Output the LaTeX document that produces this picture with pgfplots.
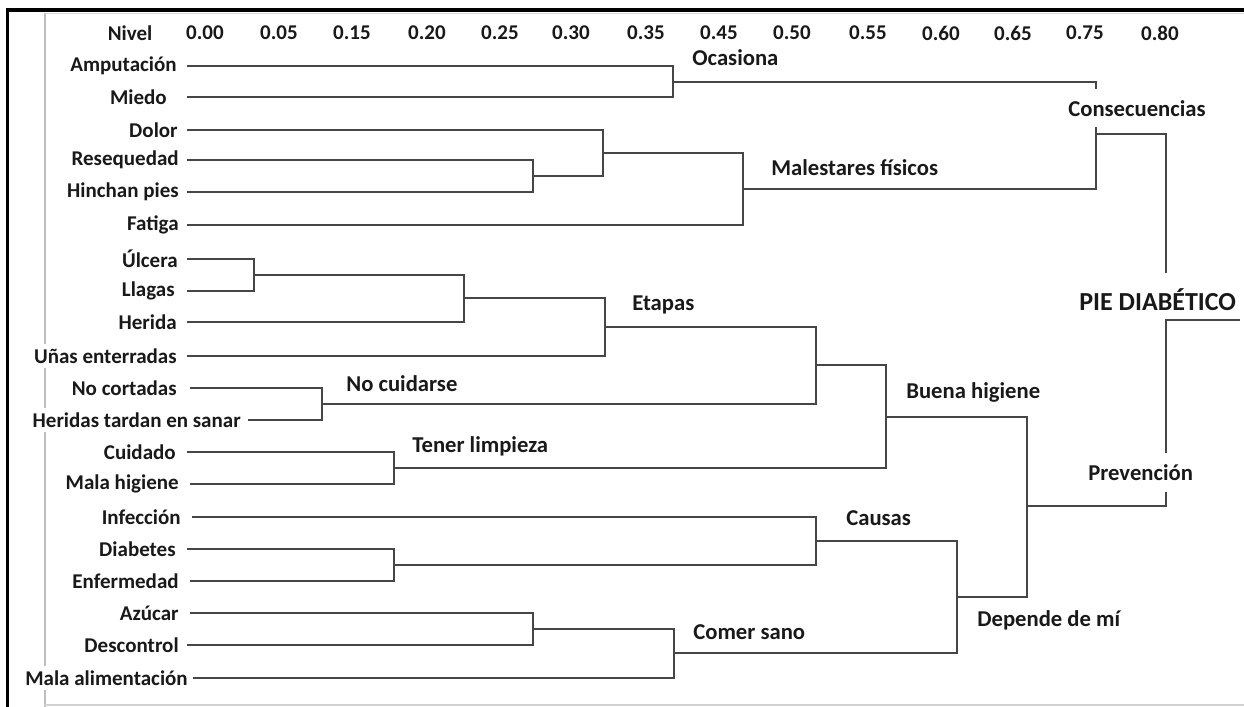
\documentclass[border=0pt]{standalone}
\usepackage{fontspec}
\setmainfont{Carlito}
\usepackage{pgfplots}
\pgfplotsset{compat=1.18}

\definecolor{linecol}{RGB}{70,70,70}
\definecolor{txtcol}{RGB}{25,25,25}
\definecolor{framegray}{RGB}{190,190,190}

\newcommand{\leaffont}{\fontsize{12.6}{14}\selectfont\bfseries}
\newcommand{\nodefont}{\fontsize{13.6}{15}\selectfont\bfseries}
\newcommand{\rootfont}{\fontsize{15.6}{17}\selectfont\bfseries}

\tikzset{
    leaflab/.style={anchor=east, font=\leaffont, text=txtcol, fill=white, inner xsep=0pt, inner ysep=3pt},
    clulab/.style={anchor=west, font=\nodefont, text=txtcol, inner sep=0pt},
    scalelab/.style={anchor=center, font=\leaffont, text=txtcol, inner sep=0pt},
}

\begin{document}
\begin{tikzpicture}
\begin{axis}[
    width=746.4pt, height=424.2pt,
    scale only axis,
    xmin=0, xmax=1244, ymin=0, ymax=707,
    y dir=reverse,
    hide axis,
    clip=false,
    dend/.style={draw=linecol, line width=1.25pt, no marks, line join=miter},
]
% frame
\addplot[draw=black, line width=2.6pt, no marks] coordinates {(6,10) (1244,10)};
\addplot[draw=black, line width=2.2pt, no marks] coordinates {(7.5,8) (7.5,707)};
\addplot[draw=framegray, line width=1.2pt, no marks] coordinates {(45,13) (45,707)};
\addplot[draw=framegray!60, line width=1pt, no marks] coordinates {(45,13.5) (1244,13.5)};
\addplot[draw=framegray!70, line width=1.2pt, no marks] coordinates {(45,705) (1244,705)};

% Consecuencias
\addplot[dend] coordinates {(187,66) (673,66) (673,97) (187,97)};
\addplot[dend] coordinates {(187,160) (533,160) (533,192) (187,192)};
\addplot[dend] coordinates {(187,130) (603,130) (603,176) (533,176)};
\addplot[dend] coordinates {(603,153) (743,153) (743,225) (187,225)};
\addplot[dend] coordinates {(673,82) (1096,82) (1096,89)};
\addplot[dend] coordinates {(1096,127) (1096,189) (743,189)};
\addplot[dend] coordinates {(1096,134) (1166,134) (1166,273)};
% root
\addplot[dend] coordinates {(1166,453) (1166,320) (1240,320)};
\addplot[dend] coordinates {(1166,492) (1166,506) (1027,506)};
% Buena higiene
\addplot[dend] coordinates {(187,259) (254,259) (254,291) (187,291)};
\addplot[dend] coordinates {(254,275) (464,275) (464,322) (187,322)};
\addplot[dend] coordinates {(464,298) (605,298) (605,356) (187,356)};
\addplot[dend] coordinates {(190,388) (322,388) (322,420) (248,420)};
\addplot[dend] coordinates {(605,327) (816,327) (816,404) (322,404)};
\addplot[dend] coordinates {(187,452) (394,452) (394,484) (190,484)};
\addplot[dend] coordinates {(816,365) (886,365) (886,468) (394,468)};
\addplot[dend] coordinates {(886,417) (1027,417) (1027,597) (957,597)};
% Depende de mi
\addplot[dend] coordinates {(187,549) (394,549) (394,581) (190,581)};
\addplot[dend] coordinates {(192,517) (816,517) (816,565) (394,565)};
\addplot[dend] coordinates {(190,613) (533,613) (533,645) (187,645)};
\addplot[dend] coordinates {(533,629) (674,629) (674,678) (193,678)};
\addplot[dend] coordinates {(816,541) (957,541) (957,653) (674,653)};

% top scale
\node[scalelab] at (axis cs:130,33) {Nivel};
\node[scalelab] at (axis cs:205,33) {0.00};
\node[scalelab] at (axis cs:279,33) {0.05};
\node[scalelab] at (axis cs:352,33) {0.15};
\node[scalelab] at (axis cs:427,33) {0.20};
\node[scalelab] at (axis cs:500,33) {0.25};
\node[scalelab] at (axis cs:571,33) {0.30};
\node[scalelab] at (axis cs:646,33) {0.35};
\node[scalelab] at (axis cs:719,33) {0.45};
\node[scalelab] at (axis cs:792,33) {0.50};
\node[scalelab] at (axis cs:868,33) {0.55};
\node[scalelab] at (axis cs:941,33) {0.60};
\node[scalelab] at (axis cs:1013,33) {0.65};
\node[scalelab] at (axis cs:1085,33) {0.75};
\node[scalelab] at (axis cs:1160,33) {0.80};

% leaves
\node[leaflab] at (axis cs:177,66) {Amputación};
\node[leaflab] at (axis cs:167,97) {Miedo};
\node[leaflab] at (axis cs:178,130) {Dolor};
\node[leaflab] at (axis cs:179,160) {Resequedad};
\node[leaflab] at (axis cs:179,192) {Hinchan pies};
\node[leaflab] at (axis cs:179,225) {Fatiga};
\node[leaflab] at (axis cs:178,259) {Úlcera};
\node[leaflab] at (axis cs:175,291) {Llagas};
\node[leaflab] at (axis cs:177,322) {Herida};
\node[leaflab] at (axis cs:177,356) {Uñas enterradas};
\node[leaflab] at (axis cs:177,388) {No cortadas};
\node[leaflab] at (axis cs:241,420) {Heridas tardan en sanar};
\node[leaflab] at (axis cs:176,452) {Cuidado};
\node[leaflab] at (axis cs:179,484) {Mala higiene};
\node[leaflab] at (axis cs:181,517) {Infección};
\node[leaflab] at (axis cs:176,549) {Diabetes};
\node[leaflab] at (axis cs:179,581) {Enfermedad};
\node[leaflab] at (axis cs:179,613) {Azúcar};
\node[leaflab] at (axis cs:179,645) {Descontrol};
\node[leaflab] at (axis cs:188,678) {Mala alimentación};

% cluster names
\node[clulab] at (axis cs:692,58) {Ocasiona};
\node[clulab] at (axis cs:1068,109) {Consecuencias};
\node[clulab] at (axis cs:771,168) {Malestares físicos};
\node[clulab] at (axis cs:632,305) {Etapas};
\node[clulab] at (axis cs:346,384) {No cuidarse};
\node[clulab] at (axis cs:412,446) {Tener limpieza};
\node[clulab] at (axis cs:906,392) {Buena higiene};
\node[clulab] at (axis cs:846,518) {Causas};
\node[clulab] at (axis cs:693,632) {Comer sano};
\node[clulab] at (axis cs:977,620) {Depende de mí};
\node[clulab] at (axis cs:1088,473) {Prevención};
\node[clulab, font=\rootfont] at (axis cs:1079,300) {PIE DIABÉTICO};
\end{axis}
\pgfresetboundingbox
\path (current axis.south west) rectangle (current axis.north east);
\end{tikzpicture}
\end{document}
